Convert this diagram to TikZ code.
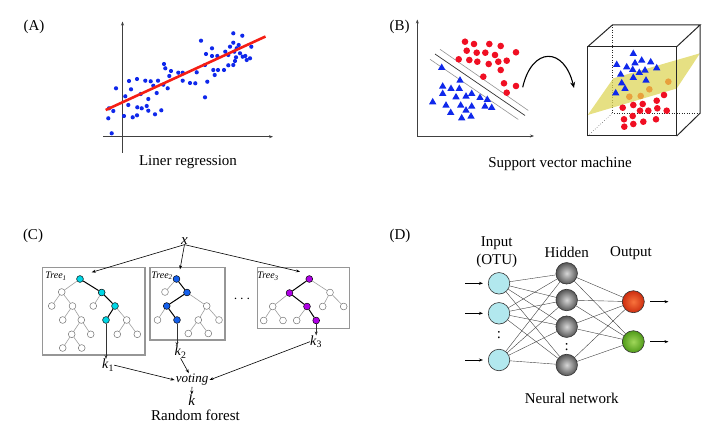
\documentclass[tikz,border=0pt]{standalone}
\usepackage{fontspec}
\setmainfont{Liberation Serif}
\usetikzlibrary{arrows.meta,shapes.geometric,calc}
\definecolor{dotblue}{RGB}{15,40,235}
\definecolor{dotred}{RGB}{240,15,35}
\definecolor{lineRed}{RGB}{245,30,20}
\definecolor{planeY}{RGB}{222,214,90}
\definecolor{dotorange}{RGB}{232,160,60}
\definecolor{tcyan}{RGB}{0,215,230}
\definecolor{tblue}{RGB}{20,95,235}
\definecolor{tpurple}{RGB}{175,0,230}
\definecolor{incyan}{RGB}{178,232,238}
\definecolor{boxgray}{RGB}{150,150,150}
\definecolor{redin}{RGB}{248,115,60}
\definecolor{redout}{RGB}{205,45,15}
\definecolor{grnin}{RGB}{160,215,90}
\definecolor{grnout}{RGB}{80,155,25}
\definecolor{gryin}{RGB}{215,215,215}
\definecolor{gryout}{RGB}{85,85,85}
\begin{document}
\begin{tikzpicture}[x=1pt,y=-1pt,
  lbl/.style={font=\fontsize{15}{18}\selectfont, inner sep=0pt},
  itl/.style={font=\fontsize{15}{18}\selectfont\itshape, inner sep=0pt},
  kl/.style={font=\fontsize{14}{16}\selectfont, inner sep=0pt},
  trl/.style={font=\fontsize{10}{12}\selectfont\itshape, inner sep=0pt},
  arr/.style={-{Stealth[length=4pt,width=3pt]}, line width=0.6pt},
  axis/.style={-{Stealth[length=4pt,width=3pt]}, line width=0.9pt, draw=black!75},
  tn/.style={circle, draw=gray!90!black, line width=0.5pt, fill=white, minimum size=6.8pt, inner sep=0pt},
  tc/.style={tn, draw=black, fill=tcyan},
  tbl/.style={tn, draw=black, fill=tblue},
  tpu/.style={tn, draw=black, fill=tpurple},
  te/.style={draw=gray!75, line width=0.6pt},
  tb/.style={draw=black, line width=1pt},
  tbox/.style={draw=boxgray, line width=1.2pt},
  inn/.style={circle, draw=black!80, line width=0.6pt, fill=incyan, minimum size=21.5pt, inner sep=0pt},
  hid/.style={circle, draw=black!80, line width=0.6pt, shading=radial, inner color=gryin, outer color=gryout, minimum size=21.5pt, inner sep=0pt},
  outr/.style={circle, draw=black!80, line width=0.6pt, shading=radial, inner color=redin, outer color=redout, minimum size=22pt, inner sep=0pt},
  outg/.style={circle, draw=black!80, line width=0.6pt, shading=radial, inner color=grnin, outer color=grnout, minimum size=22pt, inner sep=0pt},
  nne/.style={draw=black!75, line width=0.4pt}
]
\useasboundingbox (0,0) rectangle (712,433);

% ---------- Panel A ----------
\node[lbl] (la) at (34,27) {(A)};
\draw[axis] (122.5,153) -- (122.5,21.5);
\draw[axis] (103.3,136.7) -- (273,136.7);
\foreach \px/\py in {108.3/118.3,111.7/133.3,109/108.3,113.3/111,116/88.3,124/116,125.3/96.3,128.3/105,129/81,131/89.3,132.7/117.3,137/115.3,137/79,137.3/107.3,140.7/94,141.7/108.3,145.3/80.7,146.7/106,148.3/99,148.3/110.7,150.7/81.3,153.3/85.7,155/114.3,156.7/93,158/80.7,161.3/110.3,163.3/84.7,164/64,165.3/68.3,167.7/88.3,169.3/76,171/71,178.3/72.7,182.7/72.7,182.7/80.7,190/83,195.3/83.3,196.7/72.3,201/40.7,205/65,205/97.3,206/54,207.3/81.7,212/48.3,212/56,213.3/70,214.7/75,217.3/56,218/70,224/70,225.3/51.7,228.3/55,228.3/65.3,230/46.7,233.3/42.7,233.3/33.3,233.3/65,234.3/51.7,235/61,236/57.3,236.7/48.3,238.7/45,240/53.3,242.3/35.7,242.7/56.7,245.3/56,246.7/60,250/58.3,251.3/46.7}
  \fill[dotblue] (\px,\py) circle (2.1);
\draw[lineRed, line width=2.6pt] (105.7,110) -- (265.5,36.5);
\node[lbl] (ta) at (188,162) {Liner regression};

% ---------- Panel B ----------
\node[lbl] (lb) at (399.5,27) {(B)};
\draw[axis] (417.3,136) -- (417.3,19.5);
\draw[axis] (417.3,136) -- (534,136);
\draw[gray!85, line width=0.6pt] (440,49.3) -- (528.3,110.5);
\draw[black!80, line width=0.7pt] (435,54) -- (525,115.5);
\draw[gray!85, line width=0.6pt] (430,59.3) -- (518.3,119.5);
\foreach \px/\py in {465/41.7,474/44,489.3/44,500.7/46,516/52.3,466.7/50.7,476.7/52.7,485.3/52.7,495/55,469.3/60,477.3/61.7,488.7/64,498.3/61.7,506.7/60.7,458.7/59.3,500.7/70,483.3/76.7,504/83.3,516/86,506.7/92.7}
  \fill[dotred] (\px,\py) circle (3.3);
\foreach \px/\py in {441.7/67.3,460/80,442.7/86,451/88.3,459.3/88.3,432.7/101.7,442.7/93.3,456/96.7,466/96,471.7/93.3,480/97.3,487.3/99.3,446/105,460.7/105,466/110,471.7/106,485/106,491.7/107.3,450.7/112.3,461.7/117.7,471/116}
  \fill[dotblue] (\px,\py) ++(0,-3.8) -- ++(3.7,6.4) -- ++(-7.4,0) -- cycle;
\draw[-{Stealth[length=6pt,width=5pt]}, line width=1.1pt] (522.7,87.3) .. controls (532,46.5) and (564,46.5) .. (574,88);
% cube
\draw[black!85, line width=0.5pt, dotted] (612.3,25) -- (612.3,113.3) -- (700,113.3);
\draw[black!85, line width=0.5pt, dotted] (587.7,136) -- (612.3,113.3);
\fill[planeY, opacity=0.75] (587.7,115) -- (613.3,78.3) -- (700,53.3) -- (676.7,88.5) -- cycle;
\foreach \px/\py in {633.3/53.3,616.7/64.3,626.7/66.7,635/62.7,641.7/60,650.7/61.7,656.7/67.7,620.7/74,632.7/69.3,639.3/72.3,645/70,633.3/77.3,646/80,621.7/82.7,625/88.3,615.7/92.7}
  \fill[dotblue] (\px,\py) ++(0,-3.8) -- ++(3.7,6.4) -- ++(-7.4,0) -- cycle;
\foreach \px/\py in {668.3/81.7,649.3/89.3,640.7/96,629.3/96.7}
  \fill[dotorange] (\px,\py) circle (3.3);
\foreach \px/\py in {656.7/100.7,664/95,642.7/104,622.7/107.7,633.3/105,657.3/108.3,648.3/110.7,640/110.7,666.7/110.7,632.7/116,624/119.3,656/119.3,643.3/121.7,633.3/124,624.3/126.7}
  \fill[dotred] (\px,\py) circle (3.3);
\draw[black!85, line width=1pt] (587.7,46.7) rectangle (676.7,136);
\draw[black!85, line width=1pt] (587.7,46.7) -- (612.3,25) -- (700,25) -- (676.7,46.7);
\draw[black!85, line width=1pt] (700,25) -- (700,113.3) -- (676.7,136);
\node[lbl] (tb) at (560,163.5) {Support vector machine};

% ---------- Panel C ----------
\node[lbl] (lc) at (33,236) {(C)};
\draw[tbox] (42.3,267.3) rectangle (145,355);
\draw[tbox] (150,267.3) rectangle (225,340);
\draw[tbox] (257.3,267.3) rectangle (349.3,328.3);
\node[trl] at (56,276) {Tree\textsubscript{1}};
\node[trl] at (162,275.5) {Tree\textsubscript{2}};
\node[trl] at (268,276.5) {Tree\textsubscript{3}};
\node[lbl] (dots) at (242,299) {$\cdots$};

% tree 1
\node[tc] (a1) at (80,279) {};
\node[tn] (b1) at (61.7,292) {};
\node[tc] (c1) at (101.7,292.5) {};
\node[tn] (d1) at (51.7,306) {};
\node[tn] (e1) at (72.5,306) {};
\node[tn] (f1) at (93.3,306) {};
\node[tc] (g1) at (115,306) {};
\node[tn] (h1) at (62.7,320) {};
\node[tn] (i1) at (81.3,320) {};
\node[tc] (j1) at (106,320) {};
\node[tn] (l1) at (126.7,320) {};
\node[tn] (m1) at (71.7,334.3) {};
\node[tn] (n1) at (90.7,334.3) {};
\node[tn] (o1) at (117.3,334.3) {};
\node[tn] (p1) at (137.3,334.3) {};
\node[tn] (q1) at (62.7,348) {};
\node[tn] (r1) at (81.7,348) {};
\draw[te] (a1)--(b1) (b1)--(d1) (b1)--(e1) (e1)--(h1) (e1)--(i1) (i1)--(m1) (i1)--(n1) (m1)--(q1) (m1)--(r1) (c1)--(f1) (g1)--(l1) (l1)--(o1) (l1)--(p1);
\draw[tb] (a1)--(c1) (c1)--(g1) (g1)--(j1);

% tree 2
\node[tbl] (a2) at (176.5,279) {};
\node[tn] (b2) at (165,292) {};
\node[tbl] (c2) at (187,292.5) {};
\node[tbl] (d2) at (166.7,306) {};
\node[tn] (e2) at (206.7,306) {};
\node[tn] (f2) at (157.5,320) {};
\node[tbl] (g2) at (177,320) {};
\node[tn] (h2) at (198.3,320) {};
\node[tn] (i2) at (219,320) {};
\node[tn] (j2) at (188.3,333.5) {};
\node[tn] (k2n) at (208.3,333.5) {};
\draw[te] (a2)--(b2) (c2)--(e2) (d2)--(f2) (e2)--(h2) (e2)--(i2) (h2)--(j2) (h2)--(k2n);
\draw[tb] (a2)--(c2) (c2)--(d2) (d2)--(g2);

% tree 3
\node[tpu] (a3) at (309.3,279) {};
\node[tpu] (b3) at (289.5,293) {};
\node[tn] (c3) at (330,292.5) {};
\node[tn] (d3) at (272.7,306.5) {};
\node[tpu] (e3) at (307,306.5) {};
\node[tn] (f3) at (322.7,306.5) {};
\node[tn] (g3) at (343.7,306.5) {};
\node[tn] (h3) at (263.7,320.5) {};
\node[tn] (i3) at (283,320.5) {};
\node[tn] (j3) at (296.7,320.5) {};
\node[tpu] (l3) at (316.2,320.5) {};
\draw[te] (a3)--(c3) (b3)--(d3) (d3)--(h3) (d3)--(i3) (e3)--(j3) (c3)--(f3) (c3)--(g3);
\draw[tb] (a3)--(b3) (b3)--(e3) (e3)--(l3);

% x and arrows
\node[itl] (x) at (184.5,241) {x};
\coordinate (t1in) at (91.7,272.3);
\coordinate (t2in) at (180,269.3);
\coordinate (t3in) at (300,271.7);
\draw[arr] (x.south) -- (t1in);
\draw[arr] (x.south) -- (t2in);
\draw[arr] (x.south) -- (t3in);

\node[kl, anchor=north west] (k1) at (102,359) {\textit{k}\textsubscript{1}};
\node[kl, anchor=north west] (k2) at (174.5,346) {\textit{k}\textsubscript{2}};
\node[kl, anchor=north west] (k3) at (310,335.5) {\textit{k}\textsubscript{3}};
\draw[arr, draw=black!80] (j1) -- (j1 |- k1.north);
\draw[arr, draw=black!80] (g2) -- (g2 |- k2.north);
\draw[arr, draw=black!80] (l3) -- (l3 |- k3.north);

\node[font=\fontsize{13}{15}\selectfont\itshape, inner sep=1pt] (vot) at (192,380) {voting};
\node[itl] (kk) at (191.7,400) {k};
\draw[arr] (k1.east) -- (vot.west);
\draw[arr] (k2.south) -- (vot.115);
\draw[arr] (k3.west) -- (vot.east);
\draw[arr] (vot.south) -- (kk.north);
\node[lbl] (trf) at (195.5,415) {Random forest};

% ---------- Panel D ----------
\node[lbl] (ld) at (400,236) {(D)};
\node[lbl] at (496.7,243.3) {Input};
\node[lbl] at (496.7,261) {(OTU)};
\node[lbl] at (566.7,252.7) {Hidden};
\node[lbl] at (631,252.7) {Output};
\node[inn] (n1) at (499,283.3) {};
\node[inn] (n2) at (499,313.3) {};
\node[inn] (n3) at (499,360) {};
\node[hid] (hh1) at (566.7,273.3) {};
\node[hid] (hh2) at (566.7,300) {};
\node[hid] (hh3) at (566.7,326.7) {};
\node[hid] (hh4) at (566.7,365) {};
\node[outr] (oo1) at (633.3,301.7) {};
\node[outg] (oo2) at (633.3,341.7) {};
\node[lbl] at (499,335.5) {:};
\node[lbl] at (566.7,347) {:};
\foreach \i in {n1,n2,n3}
  \foreach \h in {hh1,hh2,hh3,hh4}
    \draw[nne] (\i) -- (\h);
\foreach \h in {hh1,hh2,hh3,hh4}
  \foreach \o in {oo1,oo2}
    \draw[nne] (\h) -- (\o);
\coordinate (ia1) at (465,283.3);
\coordinate (ia2) at (465,313.3);
\coordinate (ia3) at (465,360);
\draw[arr] (ia1) -- ([xshift=-5pt]n1.west);
\draw[arr] (ia2) -- ([xshift=-5pt]n2.west);
\draw[arr] (ia3) -- ([xshift=-5pt]n3.west);
\coordinate (oa1) at (668.5,301.7);
\coordinate (oa2) at (668.5,341.7);
\draw[arr] ([xshift=5.5pt]oo1.east) -- (oa1);
\draw[arr] ([xshift=5.5pt]oo2.east) -- (oa2);
\node[lbl] at (571.7,398.5) {Neural network};
\end{tikzpicture}
\end{document}
